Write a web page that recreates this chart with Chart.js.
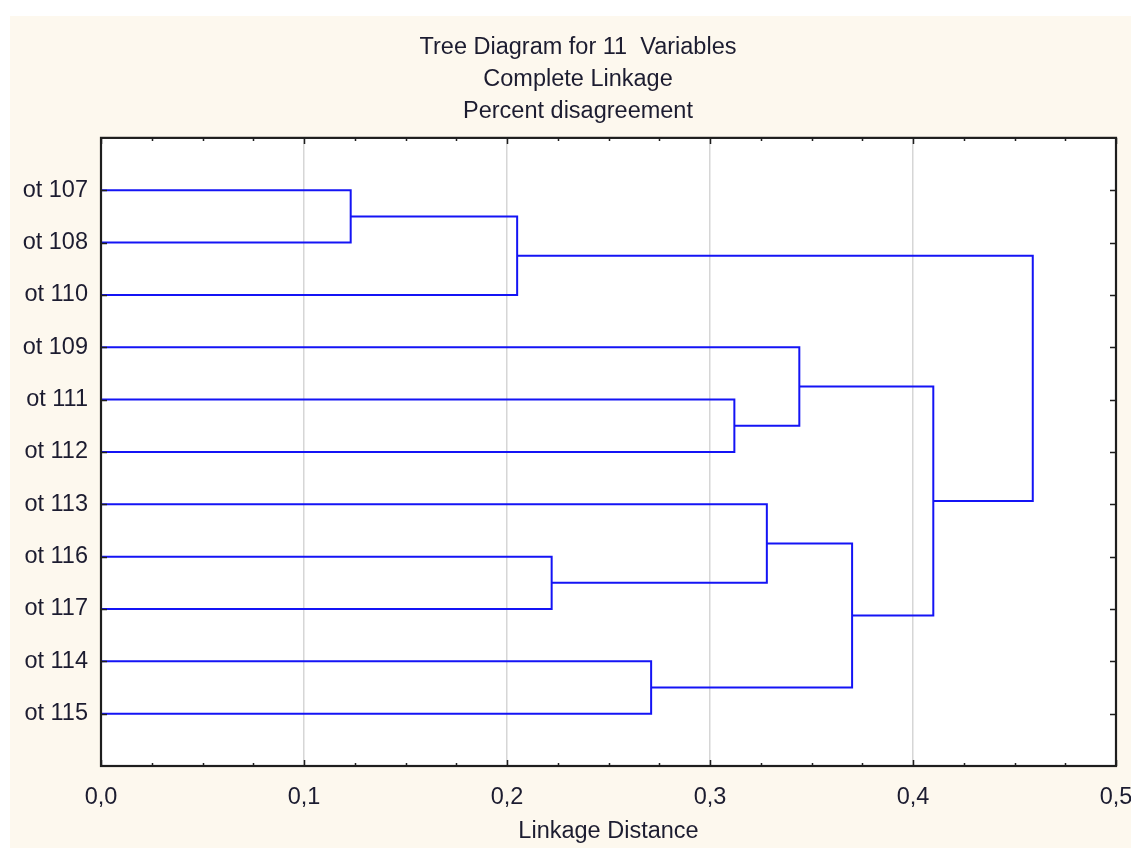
<!DOCTYPE html>
<html lang="en">
<head>
    <meta charset="UTF-8">
    <title>Tree Diagram</title>
    <style>
        body { margin: 0; background: #fff; }
        #wrap { position: absolute; left: 10px; top: 16px; width: 1121px; height: 832px; background: #fdf8ee; }
    </style>
</head>
<body>
    <div id="wrap"><canvas id="tree"></canvas></div>

    <script src="https://cdn.jsdelivr.net/npm/chart.js"></script>
    <script>
        // leaves, top to bottom
        const leaves = ['ot 107', 'ot 108', 'ot 110', 'ot 109', 'ot 111', 'ot 112', 'ot 113', 'ot 116', 'ot 117', 'ot 114', 'ot 115'];
        // merges: node ids 0..10 are leaves, merge i creates node 11 + i
        const mergeA = [0, 11, 4, 3, 7, 6, 9, 16, 14, 12];
        const mergeB = [1, 2, 5, 13, 8, 15, 10, 17, 18, 19];
        const mergeHeight = [0.123, 0.205, 0.312, 0.344, 0.222, 0.328, 0.271, 0.370, 0.410, 0.459];
        const xTicks = [0, 0.1, 0.2, 0.3, 0.4, 0.5];

        const blue = '#1414f5';
        const txt = '#1c1c30';
        const font = "'Liberation Sans', Arial, sans-serif";

        // position of each node (leaf index / mean of children) and its height
        const nodePos = leaves.map((l, i) => i);
        const nodeH = leaves.map(() => 0);
        const datasets = [];
        mergeA.forEach((a, i) => {
            const b = mergeB[i];
            const h = mergeHeight[i];
            datasets.push({
                data: [
                    { x: nodeH[a], y: nodePos[a] },
                    { x: h, y: nodePos[a] },
                    { x: h, y: nodePos[b] },
                    { x: nodeH[b], y: nodePos[b] }
                ],
                showLine: true,
                borderColor: blue,
                borderWidth: 2,
                pointRadius: 0,
                tension: 0,
                clip: false
            });
            nodePos.push((nodePos[a] + nodePos[b]) / 2);
            nodeH.push(h);
        });

        // frame and inward ticks
        const frame = {
            id: 'frame',
            afterLayout(chart) {
                // title is centred a bit right of the canvas middle
                if (chart.titleBlock) chart.titleBlock.left = 30;
            },
            afterDraw(chart) {
                const { ctx, chartArea: ca, scales: { x, y } } = chart;
                ctx.save();
                ctx.strokeStyle = '#1e1e1e';
                ctx.lineWidth = 1.5;
                ctx.beginPath();
                for (let k = 0; k <= 20; k++) {
                    const px = Math.round(x.getPixelForValue(k * 0.025)) + 0.5;
                    const len = k % 4 === 0 ? 6 : 3;
                    ctx.moveTo(px, ca.bottom);
                    ctx.lineTo(px, ca.bottom - len);
                    ctx.moveTo(px, ca.top);
                    ctx.lineTo(px, ca.top + len);
                }
                leaves.forEach((l, i) => {
                    const py = Math.round(y.getPixelForValue(i)) + 0.5;
                    ctx.moveTo(ca.left, py);
                    ctx.lineTo(ca.left + 6, py);
                    ctx.moveTo(ca.right, py);
                    ctx.lineTo(ca.right - 6, py);
                });
                ctx.stroke();
                ctx.lineWidth = 2.2;
                ctx.strokeRect(ca.left, ca.top, ca.right - ca.left, ca.bottom - ca.top);
                ctx.restore();
            }
        };

        const whiteArea = {
            id: 'whiteArea',
            beforeDraw(chart) {
                const { ctx, chartArea: ca } = chart;
                ctx.save();
                ctx.fillStyle = '#fff';
                ctx.fillRect(ca.left, ca.top, ca.right - ca.left, ca.bottom - ca.top);
                ctx.restore();
            }
        };

        new Chart(document.getElementById('tree'), {
            type: 'scatter',
            data: { datasets: datasets },
            plugins: [whiteArea, frame],
            options: {
                responsive: true,
                maintainAspectRatio: false,
                animation: false,
                layout: { padding: { left: 0, right: 15, top: 0, bottom: 0 } },
                plugins: {
                    legend: { display: false },
                    tooltip: { enabled: false },
                    title: {
                        display: true,
                        text: ['Tree Diagram for 11  Variables', 'Complete Linkage', 'Percent disagreement'],
                        color: txt,
                        font: { family: font, size: 23.5, weight: 'normal', lineHeight: 1.36 },
                        padding: { top: 16, bottom: 10 }
                    }
                },
                scales: {
                    x: {
                        type: 'linear',
                        min: 0,
                        max: 0.5,
                        afterBuildTicks: (scale) => { scale.ticks = xTicks.map(v => ({ value: v })); },
                        afterFit: (scale) => { scale.height = 82; scale.paddingRight = 0; scale.paddingLeft = 0; },
                        ticks: {
                            color: txt,
                            padding: 17,
                            font: { family: font, size: 23.5 },
                            callback: (v) => v.toFixed(1).replace('.', ',')
                        },
                        grid: {
                            drawTicks: false,
                            lineWidth: 1.5,
                            color: (c) => (c.tick && c.tick.value > 0 && c.tick.value < 0.5) ? '#d6d6d6' : 'rgba(0,0,0,0)'
                        },
                        border: { display: false },
                        title: {
                            display: true,
                            text: 'Linkage Distance',
                            color: txt,
                            font: { family: font, size: 23.5 },
                            padding: { top: 4, bottom: 2 }
                        }
                    },
                    y: {
                        type: 'linear',
                        reverse: true,
                        min: -1,
                        max: 11,
                        afterBuildTicks: (scale) => { scale.ticks = leaves.map((l, i) => ({ value: i })); },
                        afterFit: (scale) => { scale.width = 91; },
                        ticks: {
                            color: txt,
                            padding: 13,
                            autoSkip: false,
                            font: { family: font, size: 23.5 },
                            callback: (v) => leaves[v] || ''
                        },
                        grid: { display: false, drawTicks: false },
                        border: { display: false }
                    }
                }
            }
        });
    </script>
</body>
</html>
